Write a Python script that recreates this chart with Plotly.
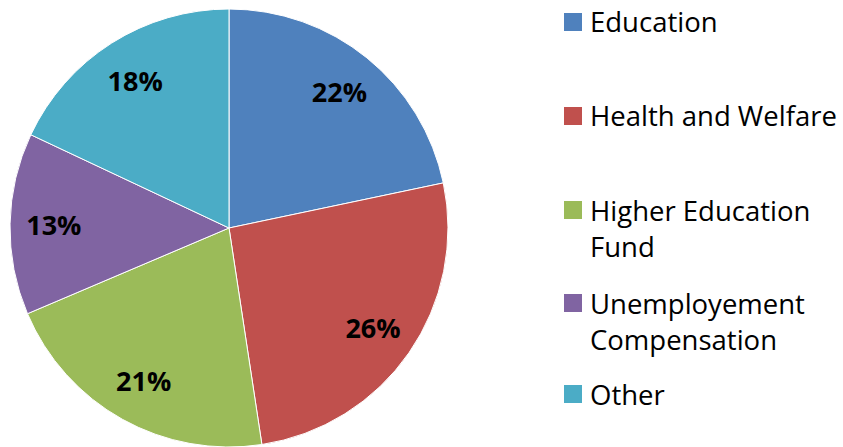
import plotly.graph_objects as go

labels = ["Education", "Health and Welfare", "Higher Education Fund", "Unemployement Compensation", "Other"]
legend_text = ["Education", "Health and Welfare", "Higher Education<br>Fund", "Unemployement<br>Compensation", "Other"]
values = [21.7, 25.9, 21.0, 13.4, 18.0]
colors = ["#4F81BD", "#C0504D", "#9BBB59", "#8064A2", "#4BACC6"]

W, H = 843, 447
FONT = "Open Sans"
dom = dict(x=[10 / W, 448 / W], y=[0, 438 / H])

fig = go.Figure()
# slices
fig.add_trace(go.Pie(
    labels=labels, values=values, sort=False, direction="clockwise", rotation=0,
    marker=dict(colors=colors, line=dict(color="white", width=1)),
    textinfo="none", domain=dom, showlegend=False, hoverinfo="label+percent",
))
# percentage labels, placed by a transparent ring so they sit near the rim
fig.add_trace(go.Pie(
    labels=labels, values=values, sort=False, direction="clockwise", rotation=0, hole=0.6,
    marker=dict(colors=["rgba(0,0,0,0)"] * len(values), line=dict(width=0)),
    texttemplate="%{percent:.0%}", textposition="inside", insidetextorientation="horizontal",
    textfont=dict(family=FONT, size=27, color="black", weight="bold"),
    domain=dom, showlegend=False, hoverinfo="skip",
))

# manual legend
item_first_line_y = [22, 116, 210, 303, 394]
line_h = 36
for txt, col, y0 in zip(legend_text, colors, item_first_line_y):
    nlines = txt.count("<br>") + 1
    yc = y0 + (nlines - 1) * line_h / 2
    fig.add_annotation(x=588 / W, y=1 - yc / H, xref="paper", yref="paper",
                       xanchor="left", yanchor="middle", align="left", showarrow=False,
                       text=txt, font=dict(family=FONT, size=27.5, color="black"))
    fig.add_shape(type="rect", xref="paper", yref="paper",
                  x0=564 / W, x1=582 / W, y0=1 - (y0 - 9) / H, y1=1 - (y0 + 9) / H,
                  fillcolor=col, line=dict(width=0))

fig.update_layout(width=W, height=H, margin=dict(l=0, r=0, t=0, b=0),
                  paper_bgcolor="white", plot_bgcolor="white")
fig.write_html("out.html", post_script="document.body.style.margin='0';",
               config={"displayModeBar": False})
